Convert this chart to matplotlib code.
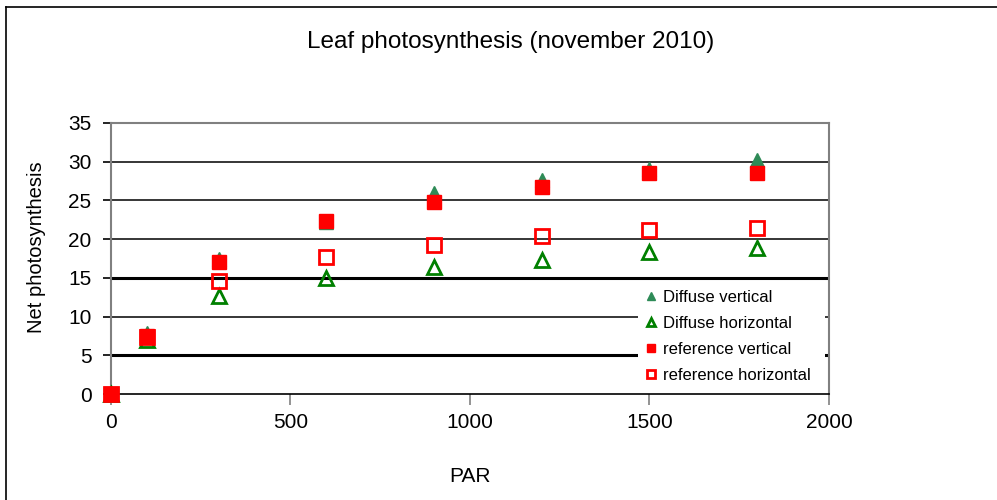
import matplotlib
matplotlib.use("Agg")
import matplotlib.pyplot as plt
from matplotlib.lines import Line2D

plt.rcParams['font.family'] = ['Liberation Sans', 'DejaVu Sans']

# PAR levels
par = [0, 100, 300, 600, 900, 1200, 1500, 1800]

# net photosynthesis per treatment
diffuse_vert = [0, 7.9, 17.4, 22.2, 26.0, 27.7, 29.0, 30.2]
diffuse_hor = [0, 7.0, 12.7, 15.0, 16.4, 17.3, 18.3, 18.8]
ref_vert = [0, 7.5, 17.1, 22.3, 24.8, 26.7, 28.5, 28.6]
ref_hor = [0, 7.4, 14.6, 17.7, 19.2, 20.4, 21.2, 21.5]

labels = ['Diffuse vertical', 'Diffuse horizontal', 'reference vertical', 'reference horizontal']

fig = plt.figure(figsize=(9.97, 5.0), dpi=100)
ax = fig.add_axes([0.1113, 0.212, 0.7202, 0.542])

# outer chart border (only left and top visible)
fig.add_artist(Line2D([0.006, 0.006], [0, 0.986], color='black', lw=1.2, transform=fig.transFigure))
fig.add_artist(Line2D([0.006, 1.0], [0.986, 0.986], color='black', lw=1.2, transform=fig.transFigure))

# gridlines, 5 and 15 look heavier in the original
for g in [5, 10, 15, 20, 25, 30]:
    lw = 2.2 if g in (5, 15) else 1.1
    ax.axhline(g, color='black', lw=lw, zorder=1)

ms = 10.5
ax.plot(par, diffuse_vert, linestyle='none', marker='^', ms=ms, color='#2e8b57',
        mec='#2e8b57', label=labels[0], clip_on=False, zorder=3)
ax.plot(par, diffuse_hor, linestyle='none', marker='^', ms=ms, mfc='none',
        mec='#008000', mew=2, label=labels[1], clip_on=False, zorder=4)
ax.plot(par, ref_vert, linestyle='none', marker='s', ms=ms, color='#ff0000',
        label=labels[2], clip_on=False, zorder=5)
ax.plot(par, ref_hor, linestyle='none', marker='s', ms=ms, mfc='none',
        mec='#ff0000', mew=2, label=labels[3], clip_on=False, zorder=6)

ax.set_xlim(0, 2000)
ax.set_ylim(0, 35)
ax.set_xticks([0, 500, 1000, 1500, 2000])
ax.set_yticks(range(0, 36, 5))

for s in ['left', 'top', 'right']:
    ax.spines[s].set_color('#808080')
    ax.spines[s].set_linewidth(1.5)
ax.spines['bottom'].set_color('black')
ax.spines['bottom'].set_linewidth(1.2)

ax.tick_params(axis='y', direction='out', length=6, width=1.2, color='black',
               labelsize=15, pad=8)
ax.tick_params(axis='x', direction='out', length=8, width=1.2, color='#808080',
               labelsize=15, pad=6)

# title sits centred on the whole chart, not on the plot area
fig.text(511 / 997, 0.904, 'Leaf photosynthesis (november 2010)', fontsize=17.5,
         ha='center', va='baseline')
ax.set_xlabel('PAR', fontsize=15, labelpad=25)
ax.set_ylabel('Net photosynthesis', fontsize=14.5)
ax.yaxis.set_label_coords(-0.0905, 0.542)

leg = ax.legend(loc='lower left', bbox_to_anchor=(0.734, 0.015, 0.26, 0.405),
                mode='expand', fontsize=12, frameon=True, framealpha=1,
                edgecolor='none', facecolor='white', markerscale=0.6,
                handlelength=0.8, handletextpad=0.3, borderpad=0.4,
                labelspacing=0.67, borderaxespad=0)
leg.set_zorder(10)

fig.savefig('out.png', dpi=100)
